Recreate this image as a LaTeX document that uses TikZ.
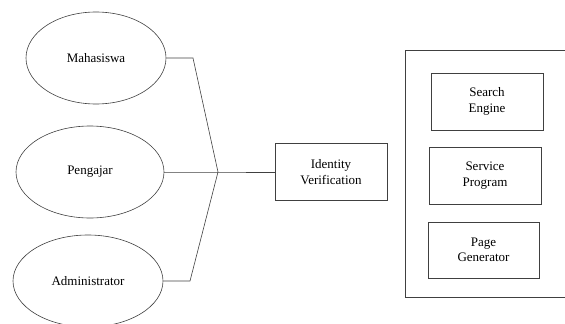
\documentclass[tikz,border=0pt]{standalone}
\usepackage{fontspec}
\setmainfont{Liberation Serif}
\usetikzlibrary{shapes.geometric}

\begin{document}
\begin{tikzpicture}[x=1pt, y=-1pt, line width=0.6pt,
    link/.style={draw=black!75},
    user/.style={draw=black!75, ellipse, minimum width=146pt, minimum height=92pt, font=\fontsize{13}{15}\selectfont},
    unit/.style={draw=black!75, rectangle, minimum width=112pt, minimum height=57pt, align=center, font=\fontsize{13}{15.5}\selectfont}]
            \useasboundingbox (0,0) rectangle (565,324);
            \clip (0,0) rectangle (565,324);

            \node[user, minimum width=140pt] (maha) at (96,58) {Mahasiswa};
            \node[user, minimum width=148pt] (peng) at (90,172) {Pengajar};
            \node[user, minimum width=150pt] (admin) at (88,281) {Administrator};

            \coordinate (mbend) at (193,58);
            \coordinate (abend) at (190,281);
            \coordinate (junc) at (218,172);

            \node[unit] (ident) at (331,172) {Identity\\Verification};

            \node[draw=black!75, rectangle, minimum width=175pt, minimum height=247pt] (server) at (492.5,173.5) {};
            \node[unit] (search) at (487,101.5) {Search\\Engine};
            \node[unit] (service) at (485,175.5) {Service\\Program};
            \node[unit, minimum width=111pt, minimum height=56pt] (page) at (483.5,250) {Page\\Generator};

            \draw[link] (maha.east) -- (mbend) -- (junc);
            \draw[link] (admin.east) -- (abend) -- (junc);
            \draw[link] (peng.east) -- (junc) -- (ident.west);
        \end{tikzpicture}
\end{document}
